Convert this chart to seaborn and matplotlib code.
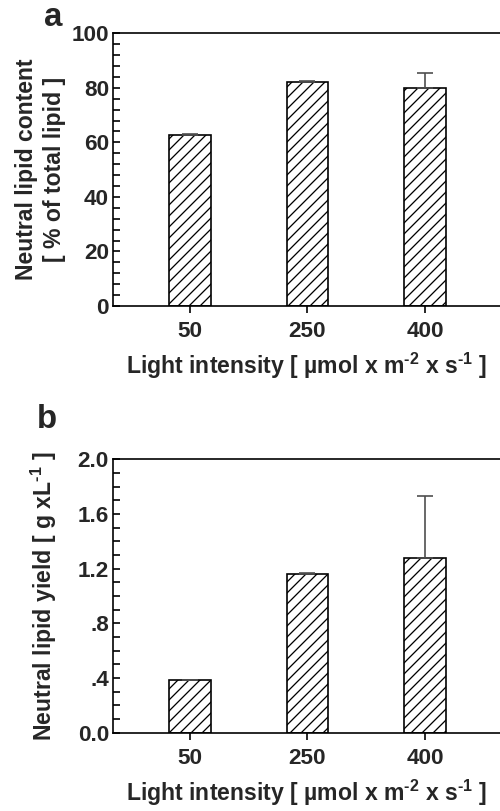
import matplotlib
matplotlib.use("Agg")
import matplotlib.pyplot as plt
import seaborn as sns
import pandas as pd
import numpy as np
from matplotlib.ticker import MultipleLocator, FixedLocator, FixedFormatter

categories = ["50", "250", "400"]
content_vals = [62.8, 82.3, 79.9]
content_err = [0.15, 0.3, 5.4]
yield_vals = [0.385, 1.16, 1.28]
yield_err = [0.003, 0.01, 0.455]

yticks_a = [0, 20, 40, 60, 80, 100]
yticklabels_a = ["0", "20", "40", "60", "80", "100"]
yticks_b = [0.0, 0.4, 0.8, 1.2, 1.6, 2.0]
yticklabels_b = ["0.0", ".4", ".8", "1.2", "1.6", "2.0"]

sns.set_theme(style="white")
plt.rcParams["font.family"] = ["Liberation Sans", "DejaVu Sans"]
plt.rcParams["font.weight"] = "bold"
plt.rcParams["mathtext.fontset"] = "custom"
plt.rcParams["mathtext.rm"] = "Liberation Sans:bold"
plt.rcParams["mathtext.it"] = "Liberation Sans:bold"
plt.rcParams["mathtext.bf"] = "Liberation Sans:bold"
plt.rcParams["mathtext.default"] = "rm"
plt.rcParams["hatch.linewidth"] = 0.7
plt.rcParams["hatch.color"] = "black"

DPI = 132
W, H = 500, 811
fig = plt.figure(figsize=(W / DPI, H / DPI), dpi=DPI)

def px(v):
    return v * 72 / DPI

tick_fs = px(22.5)
lab_fs = px(23)

xlabel = r"Light intensity [ µmol x m$^{\text{-2}}$ x s$^{\text{-1}}$ ]"

def panel(rect, vals, errs, ymax, yticks, yticklabels, minor, ylabel, ylab_ls=1.2, ylabpad=6):
    ax = fig.add_axes(rect)
    df = pd.DataFrame({"x": categories, "y": vals})
    sns.barplot(data=df, x="x", y="y", ax=ax, color="white", edgecolor="black",
                linewidth=0.9, hatch="////", width=0.35, errorbar=None, saturation=1)
    for p in ax.patches:
        p.set_facecolor("white")
    ax.errorbar(np.arange(len(vals)), vals, yerr=[np.zeros(len(vals)), errs],
                fmt="none", ecolor="0.3", elinewidth=0.9, capsize=px(8), capthick=0.9)
    ax.set_xlim(-0.655, 2.638)
    ax.set_ylim(0, ymax)
    ax.yaxis.set_major_locator(FixedLocator(yticks))
    ax.yaxis.set_major_formatter(FixedFormatter(yticklabels))
    ax.yaxis.set_minor_locator(MultipleLocator(minor))
    ax.tick_params(axis="y", which="both", direction="in", length=px(7), width=0.9,
                   left=True, labelsize=tick_fs, pad=px(4), color="black")
    ax.tick_params(axis="x", which="major", direction="out", length=px(7), width=0.9,
                   bottom=True, labelsize=tick_fs, pad=px(8), color="black")
    for lbl in ax.get_xticklabels() + ax.get_yticklabels():
        lbl.set_fontweight("bold")
    ax.spines["right"].set_visible(False)
    for s in ["left", "bottom", "top"]:
        ax.spines[s].set_color("black")
        ax.spines[s].set_linewidth(0.9)
    ax.set_xlabel(xlabel, fontsize=lab_fs, fontweight="bold", labelpad=px(9))
    ax.set_ylabel(ylabel, fontsize=lab_fs, fontweight="bold", linespacing=ylab_ls, labelpad=px(ylabpad))
    return ax

ax1 = panel([113 / W, 1 - 306 / H, 1 - 113 / W, (306 - 33.3) / H],
            content_vals, content_err, 100, yticks_a, yticklabels_a, 4,
            "Neutral lipid content\n[ % of total lipid ]", ylab_ls=1.25, ylabpad=6)
ax2 = panel([113 / W, 1 - 732.7 / H, 1 - 113 / W, (732.7 - 459.3) / H],
            yield_vals, yield_err, 2.0, yticks_b, yticklabels_b, 0.1,
            r"Neutral lipid yield [ g xL$^{\text{-1}}$ ]", ylabpad=19)

fig.text(44 / W, 1 - 26 / H, "a", fontsize=px(33), fontweight="bold", ha="left", va="baseline")
fig.text(37 / W, 1 - 428 / H, "b", fontsize=px(33), fontweight="bold", ha="left", va="baseline")

fig.savefig("out.png", dpi=DPI, facecolor="white")
